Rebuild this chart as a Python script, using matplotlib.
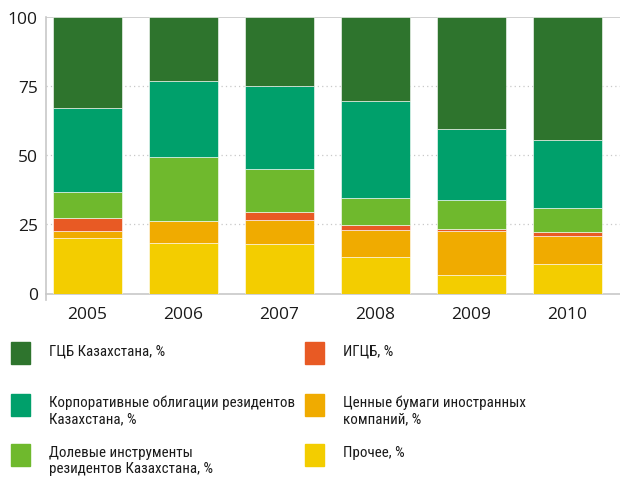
import matplotlib
matplotlib.use('Agg')
import matplotlib.pyplot as plt
from matplotlib.patches import Rectangle
from matplotlib import font_manager
from matplotlib.ft2font import FT2Font
from matplotlib.textpath import text_to_path

years = ['2005', '2006', '2007', '2008', '2009', '2010']
other = [20.0, 18.4, 17.8, 13.1, 6.5, 10.8]
foreign = [2.4, 7.7, 8.7, 9.9, 15.9, 10.1]
igcb = [4.9, 0.0, 2.9, 1.7, 0.9, 1.4]
equity = [9.4, 23.0, 15.5, 9.6, 10.5, 8.4]
corporate = [30.3, 27.6, 29.9, 35.1, 25.5, 24.7]
gcb = [33.0, 23.3, 25.2, 30.6, 40.7, 44.6]

series = [other, foreign, igcb, equity, corporate, gcb]
colors = ['#F3CD00', '#F0AB00', '#E85A24', '#6FB92D', '#00A06B', '#2E742D']

legend_left = [('ГЦБ Казахстана, %', '#2E742D'),
               ('Корпоративные облигации резидентов\nКазахстана, %', '#00A06B'),
               ('Долевые инструменты\nрезидентов Казахстана, %', '#6FB92D')]
legend_right = [('ИГЦБ, %', '#E85A24'),
                ('Ценные бумаги иностранных\nкомпаний, %', '#F0AB00'),
                ('Прочее, %', '#F3CD00')]

plt.rcParams['font.family'] = ['Open Sans', 'DejaVu Sans']

# narrowest regular face (from the usual sans families) with Cyrillic, for the legend
families = ('DejaVu Sans', 'Noto Sans', 'Roboto', 'Open Sans', 'Liberation Sans')
all_text = ''.join(t for t, _ in legend_left + legend_right).replace('\n', '')
sample = 'Корпоративные облигации резидентов'
best = None
for f in font_manager.fontManager.ttflist:
    if not f.name.startswith(families):
        continue
    if f.style != 'normal' or f.weight not in (400, 'normal', 'regular'):
        continue
    if 'Mono' in f.name or 'CJK' in f.name or 'Display' in f.name:
        continue
    try:
        cmap = FT2Font(f.fname).get_charmap()
    except Exception:
        continue
    if any(ord(ch) not in cmap for ch in set(all_text)):
        continue
    prop = font_manager.FontProperties(fname=f.fname, size=10)
    w, h, d = text_to_path.get_text_width_height_descent(sample, prop, ismath=False)
    if best is None or w < best[0]:
        best = (w, f.fname)
# keep the first column clear of the second one (starts at x=305)
target_pt = 245 * 72 / 100
size = max(10.0, min(13.0, 10 * target_pt / best[0]))
leg_font = font_manager.FontProperties(fname=best[1], size=size)

W, H = 620, 485
fig = plt.figure(figsize=(6.2, 4.85), dpi=100)
ax = fig.add_axes([46 / W, 1 - 294.5 / H, (W - 46) / W, 277 / H])

x = range(len(years))
bottom = [0.0] * len(years)
for vals, c in zip(series, colors):
    ax.bar(x, vals, bottom=bottom, width=0.72, color=c, edgecolor='#ffffff', linewidth=0.4, zorder=3)
    bottom = [b + v for b, v in zip(bottom, vals)]

ax.set_xlim(-0.43, 5.55)
ax.set_ylim(0, 100)
ax.set_yticks([0, 25, 50, 75, 100])
ax.set_xticks(list(x))
ax.set_xticklabels(years)
for y in [25, 50, 75]:
    ax.axhline(y, color='#c8c8c8', linestyle=(0, (1, 2.5)), linewidth=0.9, zorder=1)
ax.axhline(100, color='#c8c8c8', linewidth=1.2, zorder=1)

for s in ['top', 'right']:
    ax.spines[s].set_visible(False)
ax.spines['left'].set_color('#c8c8c8')
ax.spines['bottom'].set_color('#c8c8c8')
ax.spines['left'].set_linewidth(1.2)
ax.spines['bottom'].set_linewidth(1.2)
ax.spines['left'].set_bounds(-2.5, 100)
ax.tick_params(axis='both', length=0, labelsize=12.5, colors='#1a1a1a', pad=6)
ax.tick_params(axis='x', pad=9)

rows_y = [343, 395, 445]
for col_x, items in [(11, legend_left), (305, legend_right)]:
    for (label, c), ry in zip(items, rows_y):
        fig.patches.append(Rectangle((col_x / W, 1 - (ry + 22) / H), 19 / W, 22 / H,
                                     transform=fig.transFigure, color=c, figure=fig))
        fig.text((col_x + 38) / W, 1 - (ry + 1) / H, label, fontproperties=leg_font,
                 va='top', ha='left', color='#1a1a1a', linespacing=1.2)

fig.savefig('out.png', dpi=100)
plt.close(fig)
